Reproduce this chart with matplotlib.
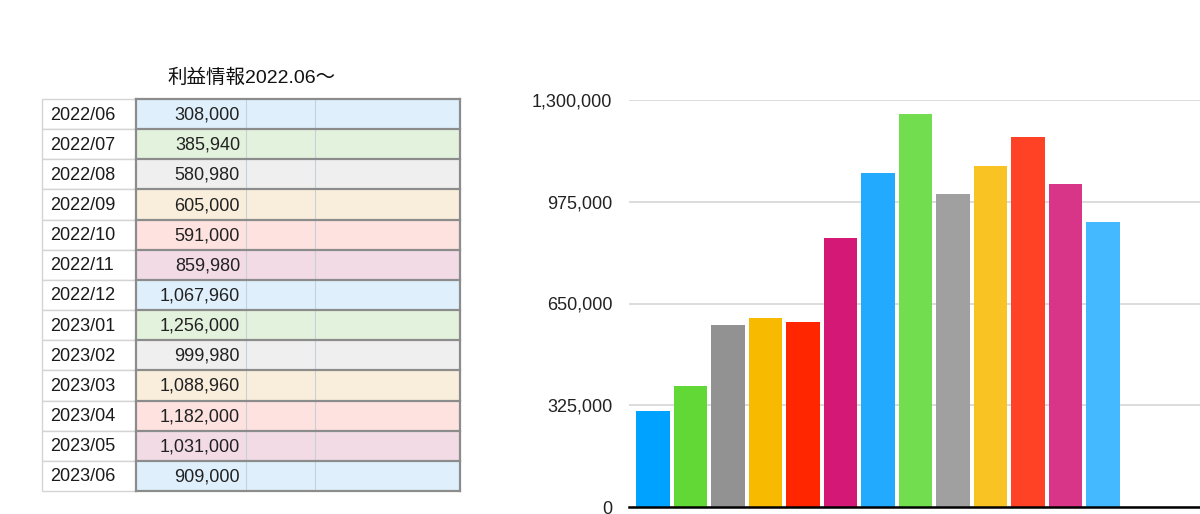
import matplotlib
matplotlib.use("Agg")
import matplotlib.pyplot as plt
from matplotlib.patches import Rectangle

plt.rcParams['font.family'] = ['Liberation Sans', 'Noto Sans CJK JP', 'DejaVu Sans']

# データ
title = "利益情報2022.06〜"
months = ["2022/06", "2022/07", "2022/08", "2022/09", "2022/10", "2022/11", "2022/12",
          "2023/01", "2023/02", "2023/03", "2023/04", "2023/05", "2023/06"]
profits = [308000, 385940, 580980, 605000, 591000, 859980, 1067960,
           1256000, 999980, 1088960, 1182000, 1031000, 909000]
bar_colors = ["#00a2ff", "#61d836", "#929292", "#f8ba00", "#ff2600", "#d31876", "#22aaff",
              "#72dd4e", "#a0a0a0", "#f9c323", "#ff4126", "#d93588", "#44b9ff"]
row_colors = ["#dff0fc", "#e3f2dc", "#efefef", "#f8eedb", "#fde2df", "#f2dbe5"]
yticks = [0, 325000, 650000, 975000, 1300000]

W, H = 1200, 514
fig = plt.figure(figsize=(12, 5.14), dpi=100)

# 表 (ピクセル座標のオーバーレイ)
tab = fig.add_axes([0, 0, 1, 1])
tab.set_xlim(0, W)
tab.set_ylim(H, 0)
tab.axis("off")

cols = [42, 136, 246, 315, 460]
top, bottom = 99, 491
rh = (bottom - top) / len(months)

tab.text(252, 78, title, ha="center", va="center", fontsize=14, color="#111111")

for i, (m, v) in enumerate(zip(months, profits)):
    y0 = top + i * rh
    c = row_colors[i % len(row_colors)]
    tab.add_patch(Rectangle((cols[0], y0), cols[1] - cols[0], rh, facecolor="white",
                            edgecolor="#d4d4d4", lw=1))
    tab.add_patch(Rectangle((cols[1], y0), cols[4] - cols[1], rh, facecolor=c,
                            edgecolor="none"))
    tab.text(50, y0 + rh / 2 + 1, m, ha="left", va="center", fontsize=13, color="#1a1a1a")
    tab.text(240, y0 + rh / 2 + 1, f"{v:,}", ha="right", va="center", fontsize=13, color="#222222")

# 縦の細線
for x in cols[2:4]:
    tab.plot([x, x], [top, bottom], color="#c8d0d8", lw=0.8)
# 横の太線
for i in range(len(months) + 1):
    y = top + i * rh
    tab.plot([cols[1], cols[4]], [y, y], color="#8c8c8c", lw=1.6)
tab.plot([cols[1], cols[1]], [top, bottom], color="#8c8c8c", lw=1.6)
tab.plot([cols[4], cols[4]], [top, bottom], color="#8c8c8c", lw=1.6)

# 棒グラフ
ax = fig.add_axes([629 / W, 7 / H, 1 - 629 / W, (507 - 100) / H])
x = list(range(len(profits)))
ax.bar(x, profits, width=0.9, color=bar_colors, zorder=3)
ax.set_xlim(-0.64, 14.59)
ax.set_ylim(0, 1300000)
ax.set_yticks(yticks)
ax.set_yticklabels([f"{t:,}" for t in yticks], fontsize=13, color="#222222")
ax.tick_params(axis="y", length=0, pad=12)
ax.set_xticks([])
ax.grid(axis="y", color="#d9d9d9", lw=1.3, zorder=0)
for s in ["top", "right", "left"]:
    ax.spines[s].set_visible(False)
ax.spines["bottom"].set_color("black")
ax.spines["bottom"].set_linewidth(1.8)
ax.spines["bottom"].set_zorder(4)

fig.savefig("out.png", dpi=100)
